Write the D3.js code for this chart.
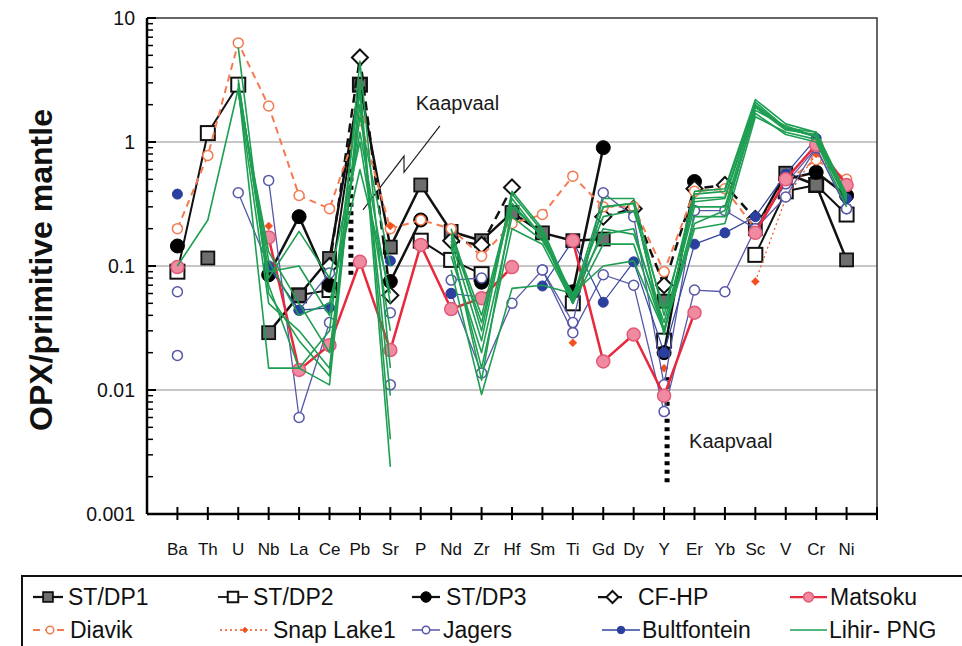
<!DOCTYPE html>
<html>
<head>
<meta charset="utf-8">
<script src="https://cdn.jsdelivr.net/npm/d3@7"></script>
<style>
  body { margin: 0; background: #fff; }
  svg { display: block; font-family: "Liberation Sans", Arial, Helvetica, sans-serif; }
</style>
</head>
<body>
<svg id="chart" width="962" height="646"></svg>
<script>
// elements on the x axis
const elements = ["Ba","Th","U","Nb","La","Ce","Pb","Sr","P","Nd","Zr","Hf","Sm","Ti","Gd","Dy","Y","Er","Yb","Sc","V","Cr","Ni"];
const yTicks = [10, 1, 0.1, 0.01, 0.001];
const yTickLabels = ["10", "1", "0.1", "0.01", "0.001"];

// OPX / primitive mantle, one value per element (null = not analysed)
const stdp1 = [null, 0.116, null, 0.029, 0.058, 0.115, 2.9, 0.142, 0.45, 0.19, 0.16, 0.27, 0.185, 0.16, 0.165, null, 0.052, null, null, 0.2, 0.56, 0.45, 0.112];
const stdp2 = [0.09, 1.18, 2.9, null, 0.058, 0.064, 2.9, null, 0.16, 0.112, 0.086, null, null, 0.05, null, null, 0.025, null, null, 0.123, 0.4, 0.45, 0.26];
const stdp3 = [0.145, null, null, 0.085, 0.25, 0.07, null, 0.075, 0.235, null, 0.074, null, null, 0.062, 0.9, null, 0.02, 0.48, null, null, 0.5, 0.57, 0.37];
const cfhp = [null, null, null, null, null, 0.1, 4.8, 0.058, null, 0.16, 0.148, 0.43, null, null, 0.25, 0.29, 0.07, 0.42, 0.45, 0.24, null, null, null];
const matsoku = [0.098, null, null, 0.17, 0.0145, 0.023, 0.108, 0.021, 0.148, 0.045, 0.055, 0.098, null, 0.16, 0.017, 0.028, 0.009, 0.042, null, 0.185, 0.5, 0.95, 0.45];
const diavik = [0.2, 0.78, 6.3, 1.95, 0.37, 0.29, 1.5, 0.2, 0.235, 0.2, 0.12, 0.22, 0.26, 0.53, 0.3, 0.3, 0.09, 0.4, 0.42, 0.2, 0.48, 0.72, 0.5];
const snapLake = [null, null, null, 0.21, null, null, null, 0.21, null, null, null, null, null, 0.024, null, null, 0.015, null, null, 0.075, 0.35, 0.8, 0.45];
const jagers1 = [0.062, null, 0.39, 0.1, 0.044, 0.088, null, 0.042, null, 0.077, 0.08, null, 0.093, 0.035, 0.39, 0.25, 0.011, 0.28, 0.28, 0.2, 0.46, 0.9, 0.29];
const jagers2 = [0.019, null, null, 0.49, 0.006, 0.035, null, 0.011, null, 0.06, 0.0137, 0.05, 0.093, 0.029, 0.085, 0.07, 0.0067, 0.064, 0.062, 0.2, 0.36, 0.9, 0.29];
const bultfontein = [0.38, null, null, 0.098, 0.044, 0.046, null, 0.11, null, 0.06, 0.056, null, 0.069, 0.16, 0.051, 0.108, 0.02, 0.15, 0.185, 0.25, 0.55, 1.07, 0.35];
const lihir = [
  [0.0057, null, 2.8, 0.015, 0.015, 0.011, 2.6, 0.0024, null, 0.15, 0.012, 0.3, 0.18, 0.05, 0.3, 0.32, 0.03, 0.35, 0.36, 2.0, 1.3, 1.1, 0.35],
  [0.035, null, 3.0, 0.08, 0.19, 0.08, 1.0, 0.03, null, 0.093, 0.0092, 0.066, 0.07, 0.06, 0.1, 0.11, 0.03, 0.2, 0.22, 1.6, 1.2, 1.05, 0.33],
  [0.06, null, 5.8, 0.06, 0.025, 0.013, 4.5, 0.015, null, 0.2, 0.03, 0.4, 0.2, 0.055, 0.35, 0.35, 0.04, 0.4, 0.42, 2.2, 1.4, 1.2, 0.38],
  [0.09, null, 2.5, 0.13, 0.05, 0.02, 1.6, 0.1, null, 0.18, 0.04, 0.35, 0.17, 0.05, 0.2, 0.18, 0.035, 0.3, 0.3, 1.9, 1.25, 1.15, 0.36],
  [0.1, 0.235, 2.7, 0.11, 0.04, 0.05, 0.6, 0.06, null, 0.12, 0.02, 0.25, 0.16, 0.06, 0.18, 0.2, 0.03, 0.25, 0.25, 1.8, 1.35, 1.1, 0.34],
  [0.02, null, 3.2, 0.07, 0.015, 0.03, 3.0, 0.004, null, 0.16, 0.025, 0.38, 0.19, 0.052, 0.3, 0.32, 0.028, 0.38, 0.4, 2.1, 1.3, 1.2, 0.37],
  [0.05, null, 2.9, 0.09, 0.1, 0.04, 1.2, 0.05, null, 0.14, 0.015, 0.2, 0.15, 0.05, 0.15, 0.15, 0.03, 0.22, 0.28, 1.7, 1.15, 1.0, 0.3],
  [0.08, null, 2.6, 0.05, 0.03, 0.015, 2.0, 0.009, null, 0.17, 0.035, 0.32, 0.17, 0.058, 0.25, 0.28, 0.045, 0.33, 0.35, 1.95, 1.28, 1.12, 0.36]
];

// Kaapvaal ranges (element, low, high)
const kaapvaal = [["Pb", 0.085, 0.65], ["Y", 0.0018, 0.0127]];

const svg = d3.select("#chart");
const pLeft = 147, pRight = 877, pTop = 18, pBottom = 514;

const x = d3.scalePoint().domain(elements).range([pLeft, pRight]).padding(1);
const y = d3.scaleLog().domain([0.001, 10]).range([pBottom, pTop]);

// styles
const diamondPath = h => `M0,${-h}L${h},0L0,${h}L${-h},0Z`;
const styles = {
  stdp1: {label: "ST/DP1", stroke: "#111", width: 2.5, marker: "square", size: 13, fill: "#6e6e6e", mstroke: "#111", mw: 1.8},
  stdp2: {label: "ST/DP2", stroke: "#111", width: 2, marker: "square", size: 14, fill: "#fff", mstroke: "#111", mw: 2},
  stdp3: {label: "ST/DP3", stroke: "#111", width: 2.5, marker: "circle", size: 7, fill: "#000", mstroke: "#000", mw: 1},
  cfhp: {label: "CF-HP", stroke: "#111", width: 2.5, dash: "9,6", marker: "diamond", size: 8, fill: "#fff", mstroke: "#111", mw: 2},
  matsoku: {label: "Matsoku", stroke: "#e8283c", width: 2.5, marker: "circle", size: 6.5, fill: "#ef8aa0", mstroke: "#e05a78", mw: 1.5},
  diavik: {label: "Diavik", stroke: "#f47a50", width: 2, dash: "7,5", marker: "circle", size: 5, fill: "#fff", mstroke: "#f47a50", mw: 1.5},
  snap: {label: "Snap Lake1", stroke: "#f0501e", width: 1.2, dash: "2,3", marker: "diamond", size: 4, fill: "#f0501e", mstroke: "#f0501e", mw: 0.5},
  jagers: {label: "Jagers", stroke: "#5757a8", width: 1.3, marker: "circle", size: 5, fill: "#fff", mstroke: "#5757a8", mw: 1.5},
  bult: {label: "Bultfontein", stroke: "#30449c", width: 1.2, marker: "circle", size: 5, fill: "#2a3f9e", mstroke: "#2a3f9e", mw: 1},
  lihir: {label: "Lihir- PNG", stroke: "#1e9e52", width: 1.6, marker: null}
};

const series = [
  ["stdp2", stdp2], ["stdp1", stdp1], ["stdp3", stdp3], ["cfhp", cfhp],
  ["diavik", diavik], ["snap", snapLake], ["jagers", jagers1], ["jagers", jagers2],
  ["bult", bultfontein], ["matsoku", matsoku],
  ...lihir.map(v => ["lihir", v])
];

// grid + frame
svg.append("g").selectAll("line").data([1, 0.1, 0.01]).join("line")
  .attr("x1", pLeft).attr("x2", pRight)
  .attr("y1", d => y(d)).attr("y2", d => y(d))
  .attr("stroke", "#b4b4b4").attr("stroke-width", 1.5);
svg.append("path")
  .attr("d", `M${pLeft},${pTop}H${pRight}V${pBottom}`)
  .attr("fill", "none").attr("stroke", "#333").attr("stroke-width", 1.5);

// Kaapvaal bars
svg.append("g").selectAll("line").data(kaapvaal).join("line")
  .attr("x1", d => x(d[0]) + (d[0] === "Pb" ? -9 : 3))
  .attr("x2", d => x(d[0]) + (d[0] === "Pb" ? -9 : 3))
  .attr("y1", d => y(d[1])).attr("y2", d => y(d[2]))
  .attr("stroke", "#000").attr("stroke-width", 5).attr("stroke-dasharray", "4,4.5");

// Kaapvaal pointer line (fractional element index, value)
const pointer = [[6.1, 0.283], [7.45, 0.77], [7.45, 0.57], [8.63, 1.35]];
const step = x.step();
svg.append("path")
  .attr("d", d3.line()(pointer.map(p => [x(elements[0]) + p[0] * step, y(p[1])])))
  .attr("fill", "none").attr("stroke", "#222").attr("stroke-width", 1.2);

svg.append("text").attr("x", x("P") - 5).attr("y", y(1.8)).attr("font-size", 20)
  .attr("fill", "#1a1a1a").text("Kaapvaal");
svg.append("text").attr("x", x("Y") + 25).attr("y", y(0.0034)).attr("font-size", 20)
  .attr("fill", "#1a1a1a").text("Kaapvaal");

// markers
function drawMarker(g, s, cx, cy, scale) {
  const k = scale || 1;
  if (s.marker === "square") {
    const w = s.size * k;
    g.append("rect").attr("x", cx - w / 2).attr("y", cy - w / 2).attr("width", w).attr("height", w)
      .attr("fill", s.fill).attr("stroke", s.mstroke).attr("stroke-width", s.mw);
  } else if (s.marker === "circle") {
    g.append("circle").attr("cx", cx).attr("cy", cy).attr("r", s.size * k)
      .attr("fill", s.fill).attr("stroke", s.mstroke).attr("stroke-width", s.mw);
  } else if (s.marker === "diamond") {
    g.append("path").attr("d", diamondPath(s.size * k)).attr("transform", `translate(${cx},${cy})`)
      .attr("fill", s.fill).attr("stroke", s.mstroke).attr("stroke-width", s.mw);
  }
}

const plot = svg.append("g");
const line = d3.line().defined(d => d[1] != null).x(d => x(d[0])).y(d => y(d[1]));
series.forEach(([key, vals]) => {
  const s = styles[key];
  const pts = elements.map((e, i) => [e, vals[i]]);
  const g = plot.append("g");
  g.append("path").attr("d", line(pts))
    .attr("fill", "none").attr("stroke", s.stroke).attr("stroke-width", s.width)
    .attr("stroke-dasharray", s.dash || null).attr("stroke-linejoin", "round");
  if (s.marker) pts.filter(p => p[1] != null).forEach(p => drawMarker(g, s, x(p[0]), y(p[1])));
});

// y axis
const ya = svg.append("g");
ya.append("line").attr("x1", pLeft).attr("x2", pLeft).attr("y1", pTop).attr("y2", pBottom)
  .attr("stroke", "#000").attr("stroke-width", 2.5);
const minor = [];
[0.001, 0.01, 0.1, 1].forEach(d => { for (let m = 2; m <= 9; m++) minor.push(d * m); });
ya.selectAll(".mn").data(minor).join("line")
  .attr("x1", pLeft).attr("x2", pLeft + 6).attr("y1", d => y(d)).attr("y2", d => y(d))
  .attr("stroke", "#000").attr("stroke-width", 1.5);
ya.selectAll(".mj").data(yTicks).join("line")
  .attr("x1", pLeft).attr("x2", pLeft + 9).attr("y1", d => y(d)).attr("y2", d => y(d))
  .attr("stroke", "#000").attr("stroke-width", 2);
ya.selectAll("text").data(yTicks).join("text")
  .attr("x", pLeft - 12).attr("y", d => y(d) + 7).attr("text-anchor", "end")
  .attr("font-size", 19.5).attr("fill", "#111").text((d, i) => yTickLabels[i]);

// x axis
const xa = svg.append("g");
xa.append("line").attr("x1", pLeft).attr("x2", pRight).attr("y1", pBottom).attr("y2", pBottom)
  .attr("stroke", "#000").attr("stroke-width", 2.5);
const xt = elements.map(e => x(e)).concat([pRight]);
xa.selectAll(".t").data(xt).join("line")
  .attr("x1", d => d).attr("x2", d => d).attr("y1", pBottom - 7).attr("y2", pBottom + 6)
  .attr("stroke", "#000").attr("stroke-width", 2);
xa.selectAll("text").data(elements).join("text")
  .attr("x", d => x(d)).attr("y", pBottom + 41).attr("text-anchor", "middle")
  .attr("font-size", 17).attr("fill", "#111").text(d => d);

// y title
svg.append("text").attr("transform", `translate(52,270) rotate(-90)`)
  .attr("text-anchor", "middle").attr("font-size", 32).attr("font-weight", "bold")
  .attr("fill", "#111").text("OPX/primitive mantle");

// legend
const lg = svg.append("g");
lg.append("rect").attr("x", 22).attr("y", 576).attr("width", 960).attr("height", 100)
  .attr("fill", "none").attr("stroke", "#111").attr("stroke-width", 2);
const legendItems = [
  ["stdp1", 33, 63, 68, 597], ["stdp2", 218, 248, 253, 597], ["stdp3", 412, 440, 446, 597],
  ["cfhp", 598, 627, 638, 597], ["matsoku", 790, 827, 830, 597],
  ["diavik", 33, 67, 70, 630], ["snap", 220, 270, 273, 630], ["jagers", 412, 440, 443, 630],
  ["bult", 602, 640, 642, 630], ["lihir", 790, 827, 829, 630]
];
legendItems.forEach(([key, x0, x1, tx, cy]) => {
  const s = styles[key];
  lg.append("line").attr("x1", x0).attr("x2", x1).attr("y1", cy).attr("y2", cy)
    .attr("stroke", s.stroke).attr("stroke-width", Math.max(1.5, s.width * 0.9))
    .attr("stroke-dasharray", s.dash || null);
  if (s.marker) drawMarker(lg, s, (x0 + x1) / 2, cy, 0.75);
  lg.append("text").attr("x", tx).attr("y", cy + 8).attr("font-size", 23).attr("fill", "#111").text(s.label);
});
</script>
</body>
</html>
